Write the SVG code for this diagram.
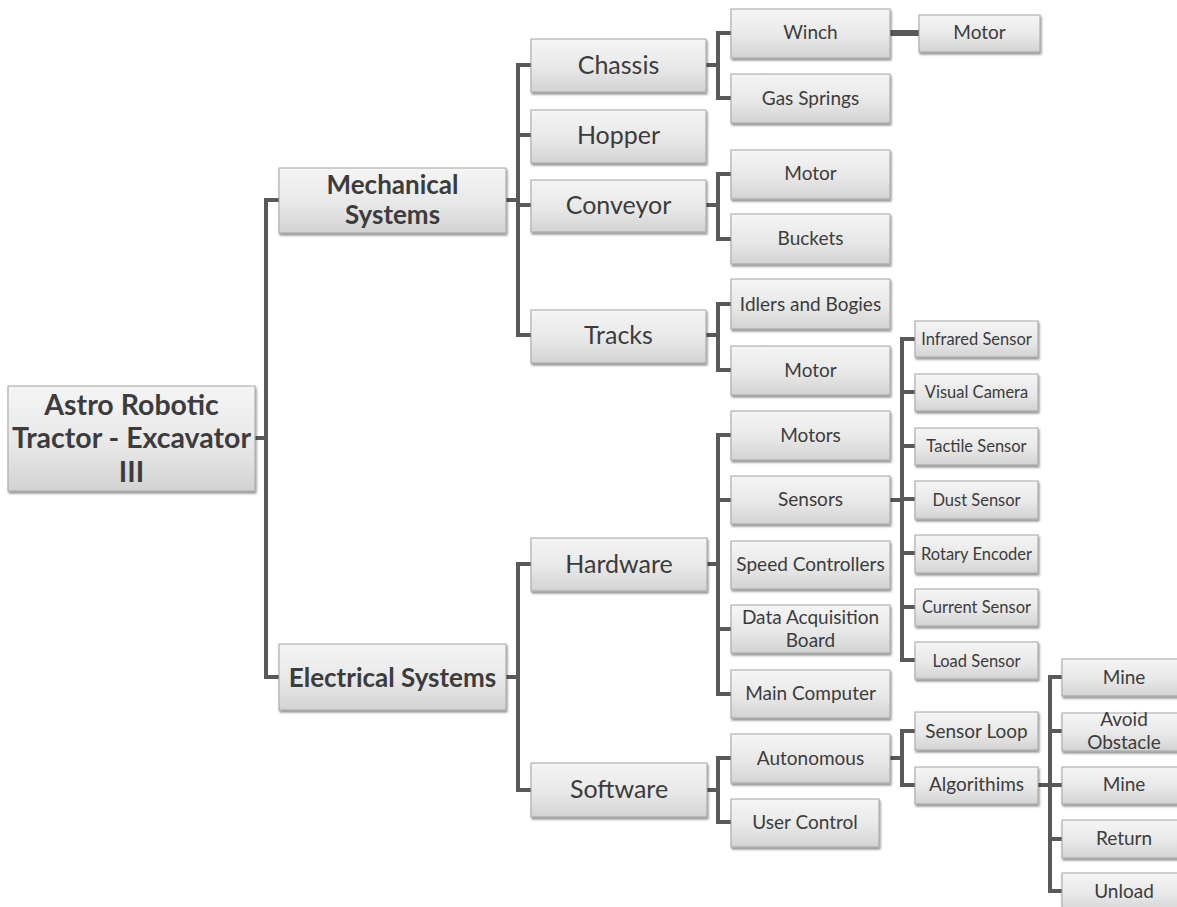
<svg xmlns="http://www.w3.org/2000/svg" width="1177" height="907" viewBox="0 0 1177 907">
<style>
.box{fill:url(#g);stroke:#a3a3a3;stroke-width:1;filter:url(#sh)}
.t{font-family:Lato,"Liberation Sans",sans-serif;fill:#3c3c3c;text-anchor:middle}
.b{font-weight:bold;font-size:26px}
.rt{font-weight:bold;font-size:28.5px}
.l2{font-size:25px}
.l3{font-size:19px}
.l4{font-size:16.5px}
.c{fill:none;stroke:#595959;stroke-width:4;stroke-linejoin:miter;stroke-linecap:butt}
</style>
<defs>
<linearGradient id="g" x1="0" y1="0" x2="0" y2="1">
<stop offset="0" stop-color="#f5f5f5"/>
<stop offset="0.55" stop-color="#e8e8e8"/>
<stop offset="1" stop-color="#d3d3d3"/>
</linearGradient>
<filter id="sh" x="-5%" y="-10%" width="112%" height="130%">
<feDropShadow dx="1" dy="2" stdDeviation="1" flood-color="#000" flood-opacity="0.45"/>
</filter>
</defs>
<rect width="1177" height="907" fill="#fff"/>
<g id="connectors">
<path class="c" d="M279,200 H266 V677 H279 M255,438 H266"/>
<path class="c" d="M506,200 H518 M531,65 H518 V335 H531 M518,135 H531 M518,205 H531"/>
<path class="c" d="M706,65 H718 M731,33 H718 V98 H731"/>
<path class="c" d="M706,205 H718 M731,174 H718 V239 H731"/>
<path class="c" d="M706,335 H718 M731,304 H718 V370 H731"/>
<path class="c" d="M890,33 H919" style="stroke-width:6"/>
<path class="c" d="M506,677 H518 M531,564 H518 V790 H531"/>
<path class="c" d="M707,564 H718 M731,435 H718 V694 H731 M718,500 H731 M718,629 H731"/>
<path class="c" d="M890,500 H902 M915,339 H902 V660 H915 M902,392 H915 M902,446 H915 M902,499 H915 M902,553 H915 M902,607 H915"/>
<path class="c" d="M707,790 H718 M731,758 H718 V822 H731"/>
<path class="c" d="M890,758 H902 M915,731 H902 V785 H915"/>
<path class="c" d="M1038,785 H1050 M1062,677 H1050 V891 H1062 M1050,731 H1062 M1050,785 H1062 M1050,839 H1062"/>
</g>
<g id="root"><rect class="box" x="8" y="386" width="247" height="105"/><text class="t rt" x="131.5" y="415">Astro Robotic</text><text class="t rt" x="131.5" y="448">Tractor - Excavator</text><text class="t rt" x="131.5" y="482">III</text></g>
<g id="mech"><rect class="box" x="279" y="168" width="227" height="65"/><text class="t b" x="392.5" y="194">Mechanical</text><text class="t b" x="392.5" y="224">Systems</text></g>
<g id="elec"><rect class="box" x="279" y="644" width="227" height="66"/><text class="t b" x="392.5" y="686.5">Electrical Systems</text></g>
<g id="chassis"><rect class="box" x="531" y="39" width="175" height="53"/><text class="t l2" x="618.5" y="73.5">Chassis</text></g>
<g id="hopper"><rect class="box" x="531" y="110" width="175" height="53"/><text class="t l2" x="618.5" y="144">Hopper</text></g>
<g id="conveyor"><rect class="box" x="531" y="180" width="175" height="52"/><text class="t l2" x="618.5" y="214">Conveyor</text></g>
<g id="tracks"><rect class="box" x="531" y="310" width="175" height="53"/><text class="t l2" x="618.5" y="344">Tracks</text></g>
<g id="hardware"><rect class="box" x="531" y="538" width="176" height="53"/><text class="t l2" x="619" y="572.5">Hardware</text></g>
<g id="software"><rect class="box" x="531" y="763" width="176" height="54"/><text class="t l2" x="619" y="798">Software</text></g>
<g id="winch"><rect class="box" x="731" y="9" width="159" height="49"/><text class="t l3" x="810.5" y="39">Winch</text></g>
<g id="gas-springs"><rect class="box" x="731" y="74" width="159" height="49"/><text class="t l3" x="810.5" y="104.5">Gas Springs</text></g>
<g id="winch-motor"><rect class="box" x="919" y="15" width="121" height="37"/><text class="t l3" x="979.5" y="39">Motor</text></g>
<g id="conveyor-motor"><rect class="box" x="731" y="150" width="159" height="49"/><text class="t l3" x="810.5" y="180">Motor</text></g>
<g id="buckets"><rect class="box" x="731" y="214" width="159" height="50"/><text class="t l3" x="810.5" y="245">Buckets</text></g>
<g id="idlers"><rect class="box" x="731" y="279" width="159" height="50"/><text class="t l3" x="810.5" y="310.5">Idlers and Bogies</text></g>
<g id="tracks-motor"><rect class="box" x="731" y="346" width="159" height="49"/><text class="t l3" x="810.5" y="376.5">Motor</text></g>
<g id="motors"><rect class="box" x="731" y="411" width="159" height="49"/><text class="t l3" x="810.5" y="441.5">Motors</text></g>
<g id="sensors"><rect class="box" x="731" y="476" width="159" height="48"/><text class="t l3" x="810.5" y="506">Sensors</text></g>
<g id="speed-controllers"><rect class="box" x="731" y="541" width="159" height="48"/><text class="t l3" x="810.5" y="571">Speed Controllers</text></g>
<g id="daq"><rect class="box" x="731" y="605" width="159" height="48"/><text class="t l3" x="810.5" y="623.5">Data Acquisition</text><text class="t l3" x="810.5" y="646.5">Board</text></g>
<g id="main-computer"><rect class="box" x="731" y="670" width="159" height="48"/><text class="t l3" x="810.5" y="700">Main Computer</text></g>
<g id="autonomous"><rect class="box" x="731" y="734" width="159" height="49"/><text class="t l3" x="810.5" y="764.5">Autonomous</text></g>
<g id="user-control"><rect class="box" x="731" y="799" width="148" height="48"/><text class="t l3" x="805" y="829">User Control</text></g>
<g id="infrared"><rect class="box" x="915" y="321" width="123" height="36"/><text class="t l4" x="976.5" y="344.5">Infrared Sensor</text></g>
<g id="visual-camera"><rect class="box" x="915" y="374" width="123" height="37"/><text class="t l4" x="976.5" y="398">Visual Camera</text></g>
<g id="tactile"><rect class="box" x="915" y="428" width="123" height="37"/><text class="t l4" x="976.5" y="452">Tactile Sensor</text></g>
<g id="dust"><rect class="box" x="915" y="481" width="123" height="38"/><text class="t l4" x="976.5" y="505.5">Dust Sensor</text></g>
<g id="rotary"><rect class="box" x="915" y="535" width="123" height="38"/><text class="t l4" x="976.5" y="559.5">Rotary Encoder</text></g>
<g id="current"><rect class="box" x="915" y="589" width="123" height="37"/><text class="t l4" x="976.5" y="613">Current Sensor</text></g>
<g id="load"><rect class="box" x="915" y="642" width="123" height="37"/><text class="t l4" x="976.5" y="666.5">Load Sensor</text></g>
<g id="sensor-loop"><rect class="box" x="915" y="712" width="123" height="38"/><text class="t l3" x="976.5" y="737.5">Sensor Loop</text></g>
<g id="algorithims"><rect class="box" x="915" y="767" width="123" height="37"/><text class="t l3" x="976.5" y="791">Algorithims</text></g>
<g id="mine1"><rect class="box" x="1062" y="659" width="124" height="37"/><text class="t l3" x="1124" y="683.5">Mine</text></g>
<g id="avoid"><rect class="box" x="1062" y="713" width="124" height="38"/><text class="t l3" x="1124" y="725.5">Avoid</text><text class="t l3" x="1124" y="748.5">Obstacle</text></g>
<g id="mine2"><rect class="box" x="1062" y="767" width="124" height="37"/><text class="t l3" x="1124" y="791">Mine</text></g>
<g id="return"><rect class="box" x="1062" y="820" width="124" height="38"/><text class="t l3" x="1124" y="845">Return</text></g>
<g id="unload"><rect class="box" x="1062" y="873" width="124" height="40"/><text class="t l3" x="1124" y="897.5">Unload</text></g>
</svg>
